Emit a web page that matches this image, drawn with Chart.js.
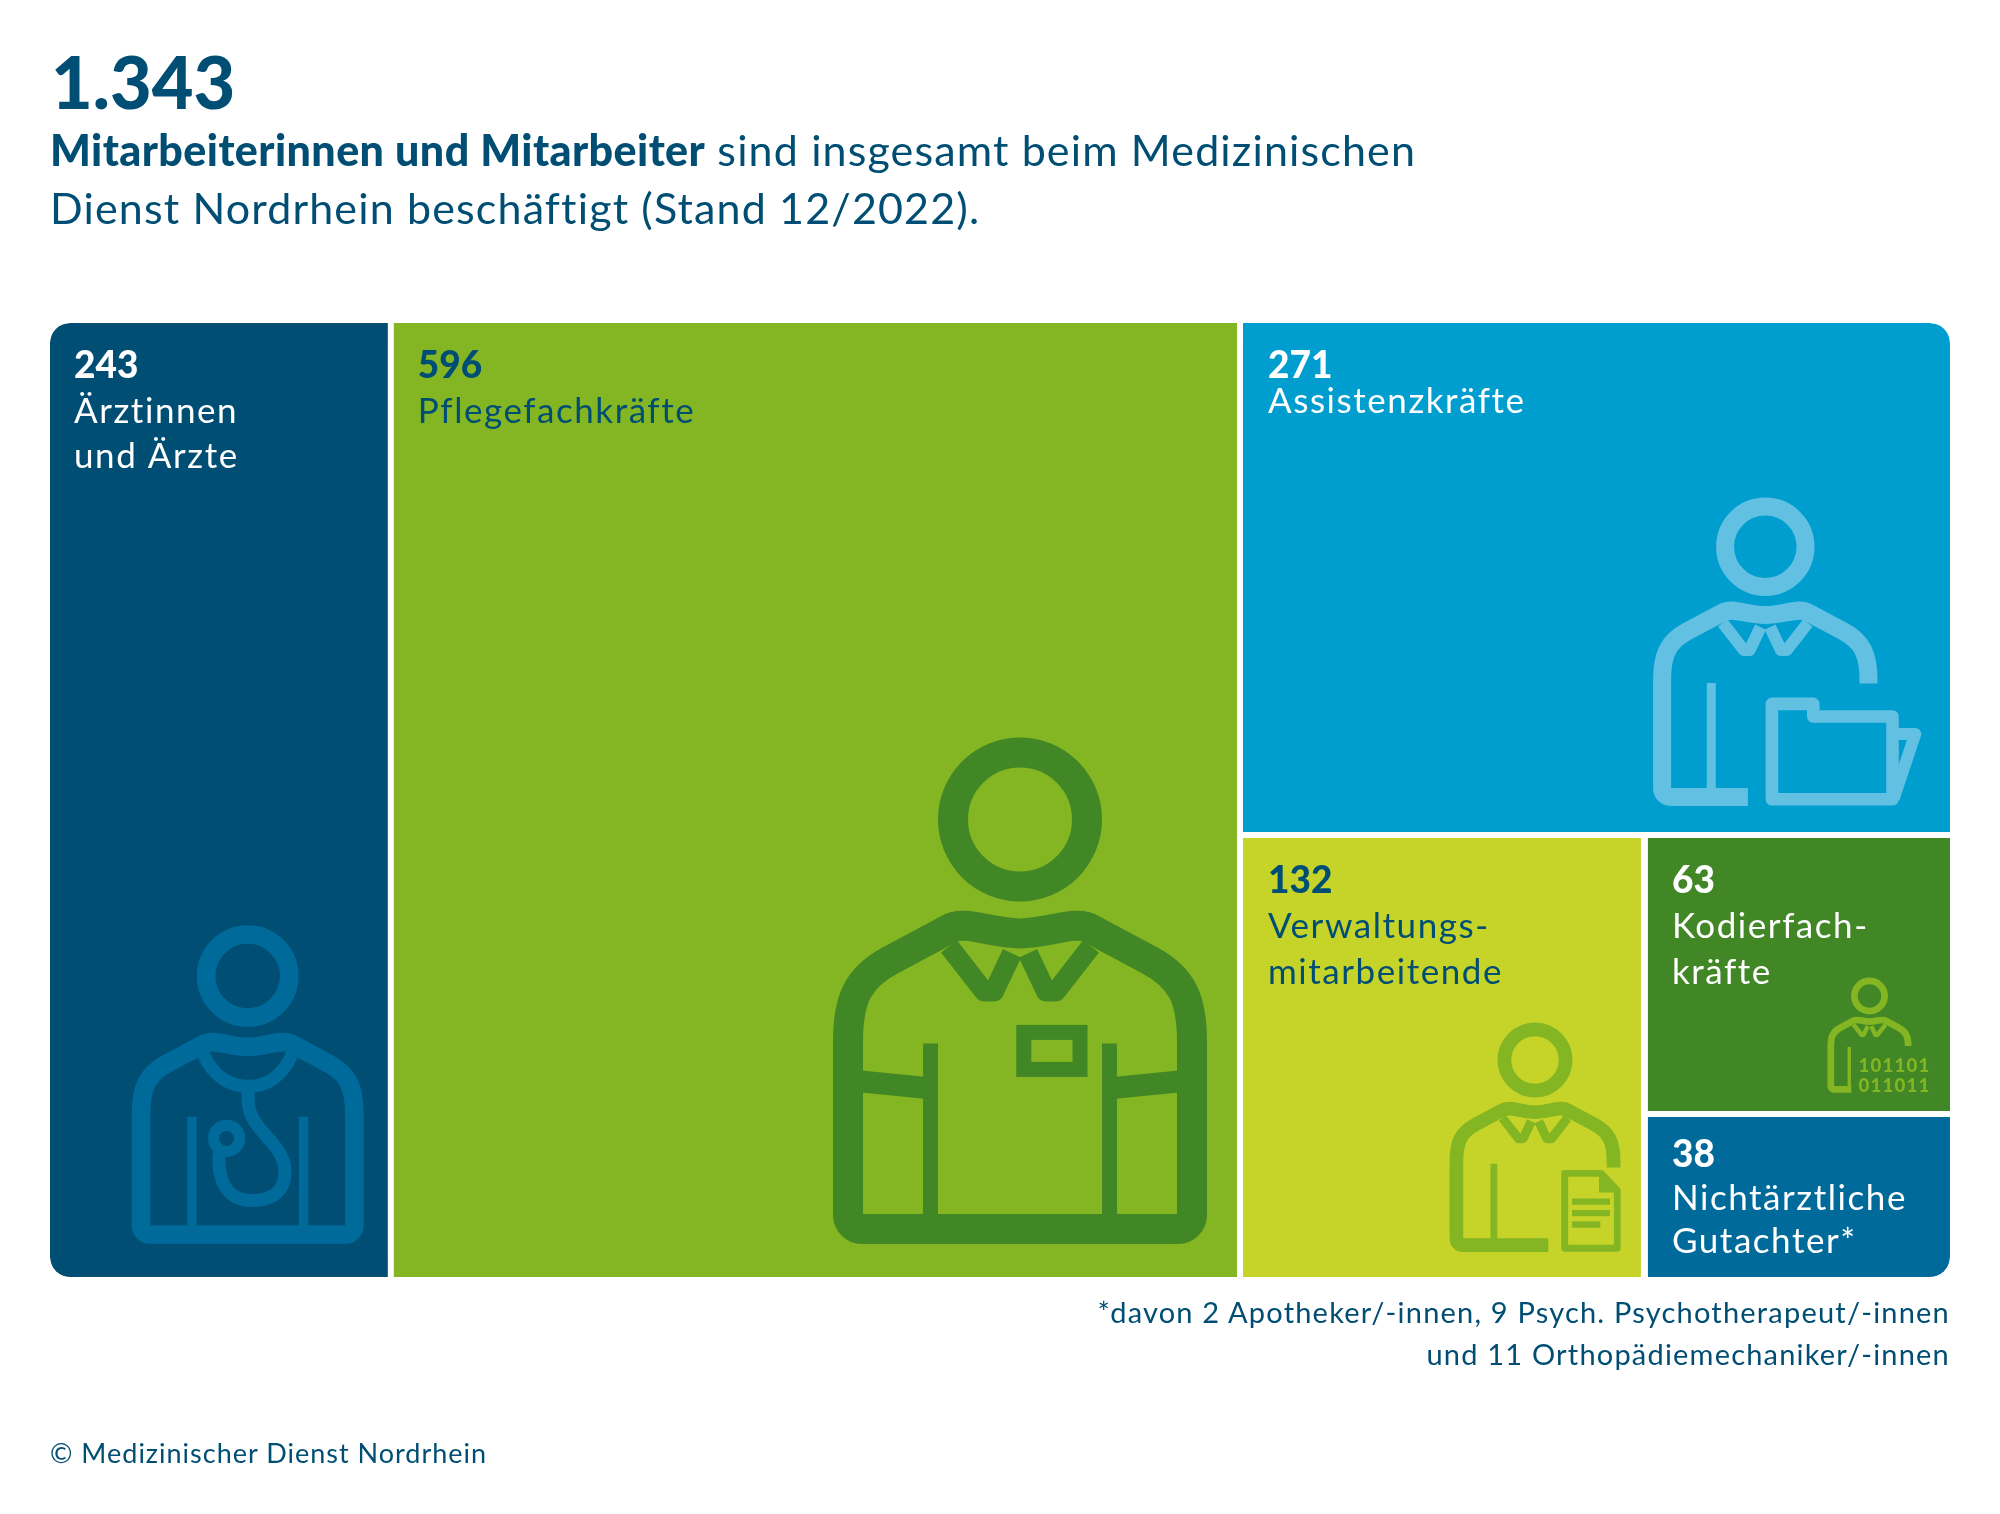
<!DOCTYPE html>
<html lang="de">
<head>
<meta charset="utf-8">
<title>Mitarbeitende Medizinischer Dienst Nordrhein</title>
<script src="https://cdn.jsdelivr.net/npm/chart.js@4"></script>
<style>
  html, body { margin: 0; padding: 0; background: #fff; }
  #page { position: relative; width: 2000px; height: 1514px; overflow: hidden; font-family: Lato, "Noto Sans", sans-serif; color: #004e73; }
  #chart { position: absolute; left: 0; top: 0; }
  .txt { position: absolute; white-space: nowrap; line-height: 1.2; }
  #gesamt { left: 51px; top: 38px; font-size: 72px; font-weight: 900; }
  .sub { left: 50px; font-size: 43px; letter-spacing: 1.15px; }
  .sub b { font-weight: 900; letter-spacing: 0.42px; }
  .fuss { right: 50px; font-size: 29px; letter-spacing: 1.2px; }
  #copy { left: 50px; top: 1437px; font-size: 27px; letter-spacing: 1px; }
</style>
</head>
<body>
<div id="page">
  <canvas id="chart" width="2000" height="1514"></canvas>
  <div class="txt" id="gesamt">1.343</div>
  <div class="txt sub" style="top:124px"><b>Mitarbeiterinnen und Mitarbeiter</b> sind insgesamt beim Medizinischen</div>
  <div class="txt sub" style="top:182px">Dienst Nordrhein beschäftigt (Stand 12/2022).</div>
  <div class="txt fuss" style="top:1295px">*davon 2 Apotheker/-innen, 9 Psych. Psychotherapeut/-innen</div>
  <div class="txt fuss" style="top:1337px">und 11 Orthopädiemechaniker/-innen</div>
  <div class="txt" id="copy">© Medizinischer Dienst Nordrhein</div>
</div>
<script>
// ── DATOS ─────────────────────────────────────────────────────────────────────
var tileValues = [243, 596, 271, 132, 63, 38];
var tileNames  = [
  ['Ärztinnen', 'und Ärzte'],
  ['Pflegefachkräfte'],
  ['Assistenzkräfte'],
  ['Verwaltungs-', 'mitarbeitende'],
  ['Kodierfach-', 'kräfte'],
  ['Nichtärztliche', 'Gutachter*']
];
var tileColors = ['#004e73', '#84b522', '#009ecf', '#c6d42a', '#418725', '#006a9b'];
var textColors = ['#ffffff', '#004e73', '#ffffff', '#004e73', '#ffffff', '#ffffff'];
var iconColors = ['#006a9b', '#418725', '#62c0e3', '#84b522', '#84b522'];

// white gaps between tiles (px) and outer corners
var tileGaps = [
  { top: 0, right: 6, bottom: 0, left: 0 },
  { top: 0, right: 0, bottom: 0, left: 0 },
  { top: 0, right: 0, bottom: 4, left: 6 },
  { top: 2, right: 0, bottom: 0, left: 6 },
  { top: 2, right: 0, bottom: 0, left: 7 },
  { top: 6, right: 0, bottom: 0, left: 7 }
];
var R = 20;
var tileCorners = [
  { topLeft: R, topRight: 0, bottomLeft: R, bottomRight: 0 },
  0,
  { topLeft: 0, topRight: R, bottomLeft: 0, bottomRight: 0 },
  0,
  0,
  { topLeft: 0, topRight: 0, bottomLeft: 0, bottomRight: R }
];
// text inset and baselines of number and name lines, from the top left of the tile
var tileInsets = [24, 24, 25, 25, 24, 24];
var tileBaselines = [
  [55, 100, 145], [55, 100], [55, 90], [57, 102, 148], [57, 102, 148], [56, 99, 142]
];

// ── TREEMAP LAYOUT ────────────────────────────────────────────────────────────
// columns 243 | 596 | rest; rest = 271 over (132 | (63 over 38))
function layoutTiles(v) {
  var total = v.reduce(function(a, b) { return a + b; }, 0);
  var c1 = v[0], c2 = c1 + v[1];
  var rest = v[2] + v[3] + v[4] + v[5];
  var yTop = v[2] / rest;
  var xMid = c2 + (total - c2) * v[3] / (v[3] + v[4] + v[5]);
  var yMid = yTop + (1 - yTop) * v[4] / (v[4] + v[5]);
  function tile(x0, x1, y0, y1) { return { x: (x0 + x1) / 2, y: [y0, y1], x0: x0, x1: x1 }; }
  return [
    tile(0, c1, 0, 1),
    tile(c1, c2, 0, 1),
    tile(c2, total, 0, yTop),
    tile(c2, xMid, yTop, 1),
    tile(xMid, total, yTop, yMid),
    tile(xMid, total, yMid, 1)
  ];
}

// bar controller whose bar width comes from the x scale
class TileController extends Chart.BarController {
  _calculateBarIndexPixels(index) {
    var raw = this.getDataset().data[index];
    var scale = this._cachedMeta.iScale;
    var l = scale.getPixelForValue(raw.x0), r = scale.getPixelForValue(raw.x1);
    return { base: l, head: r, center: (l + r) / 2, size: r - l, ratio: 1 };
  }
}
TileController.id = 'tile';
Chart.register(TileController);

// ── ICONOS ────────────────────────────────────────────────────────────────────
function mirror(ctx, fn) {
  ctx.save(); fn(); ctx.scale(-1, 1); fn(); ctx.restore();
}
function vLine(ctx, x, y0, y1, w) {
  ctx.lineWidth = w;
  ctx.beginPath(); ctx.moveTo(x, y0); ctx.lineTo(x, y1); ctx.stroke();
}
// person: head at the origin, units are px of the big nurse icon
function person(ctx, o) {
  var b = o.bottom;
  ctx.lineWidth = 30;
  ctx.beginPath(); ctx.arc(0, 0, 67, 0, Math.PI * 2); ctx.stroke();

  ctx.lineCap = 'butt'; ctx.lineJoin = 'round';
  ctx.beginPath();
  if (o.bandEnd === undefined) {
    ctx.moveTo(172, 300); ctx.lineTo(172, b - 14);
    ctx.arcTo(172, b, 158, b, 14);
  } else {
    ctx.moveTo(o.bandEnd, b);
  }
  ctx.lineTo(-158, b);
  ctx.arcTo(-172, b, -172, b - 14, 14);
  ctx.lineTo(-172, 222);
  ctx.bezierCurveTo(-172, 180, -162, 158, -130, 141);
  ctx.lineTo(-72, 110);
  ctx.bezierCurveTo(-56, 100, -30, 114, 0, 114);
  ctx.bezierCurveTo(30, 114, 56, 100, 72, 110);
  ctx.lineTo(130, 141);
  ctx.bezierCurveTo(162, 158, 172, 180, 172, 222);
  ctx.lineTo(172, o.bandEnd === undefined ? 300 : o.sideEnd);
  ctx.stroke();

  if (!o.noCollar) {
    mirror(ctx, function() {
      ctx.lineWidth = 20;
      ctx.beginPath();
      ctx.moveTo(-71, 127); ctx.lineTo(-36, 172); ctx.lineTo(-26, 172); ctx.lineTo(-8, 134);
      ctx.stroke();
    });
  }
}

var iconDraw = [
  function doctor(ctx) {
    person(ctx, { bottom: 417, noCollar: true });
    vLine(ctx, -90, 227, 417, 15);
    vLine(ctx, 90, 227, 417, 15);
    ctx.lineWidth = 21;
    ctx.beginPath();
    ctx.moveTo(-72, 125);
    ctx.bezierCurveTo(-55, 165, -25, 178, 1, 178);
    ctx.bezierCurveTo(27, 178, 55, 165, 72, 125);
    ctx.stroke();
    ctx.beginPath();
    ctx.moveTo(1, 178); ctx.lineTo(1, 205);
    ctx.bezierCurveTo(4, 250, 60, 270, 60, 315);
    ctx.bezierCurveTo(60, 355, 30, 362, 5, 362);
    ctx.bezierCurveTo(-25, 362, -50, 340, -46, 285);
    ctx.stroke();
    ctx.lineWidth = 18;
    ctx.beginPath(); ctx.arc(-34, 262, 21, 0, Math.PI * 2); ctx.stroke();
  },
  function nurse(ctx) {
    person(ctx, { bottom: 409.6 });
    vLine(ctx, -89.5, 224, 409, 15);
    vLine(ctx, 89.5, 224, 409, 15);
    mirror(ctx, function() {
      ctx.lineWidth = 22;
      ctx.beginPath(); ctx.moveTo(-160, 262); ctx.lineTo(-89, 269); ctx.stroke();
    });
    ctx.lineWidth = 15; ctx.lineJoin = 'miter';
    ctx.strokeRect(3.8, 213, 56.2, 37);
  },
  function assistant(ctx) {
    person(ctx, { bottom: 417, bandEnd: -29, sideEnd: 228 });
    vLine(ctx, -90, 227, 417, 15);
    ctx.lineWidth = 21;
    ctx.beginPath();
    ctx.moveTo(11, 410); ctx.lineTo(11, 262); ctx.lineTo(80, 262); ctx.lineTo(80, 283);
    ctx.lineTo(212, 283); ctx.lineTo(212, 421); ctx.lineTo(11, 421); ctx.closePath();
    ctx.stroke();
    ctx.lineWidth = 20;
    ctx.beginPath();
    ctx.moveTo(212, 312); ctx.lineTo(250, 312); ctx.lineTo(214, 420);
    ctx.stroke();
  },
  function admin(ctx) {
    person(ctx, { bottom: 405, bandEnd: 29, sideEnd: 235 });
    vLine(ctx, -90, 227, 405, 15);
    ctx.lineWidth = 15;
    ctx.beginPath();
    ctx.moveTo(65, 248); ctx.lineTo(145, 248); ctx.lineTo(180, 285); ctx.lineTo(180, 412);
    ctx.lineTo(65, 412); ctx.closePath(); ctx.stroke();
    ctx.fillStyle = ctx.strokeStyle;
    ctx.beginPath(); ctx.moveTo(140, 248); ctx.lineTo(180, 290); ctx.lineTo(140, 290); ctx.closePath(); ctx.fill();
    ctx.lineWidth = 14;
    [[310, 164], [335, 164], [360, 143]].forEach(function(l) {
      ctx.beginPath(); ctx.moveTo(81, l[0]); ctx.lineTo(l[1], l[0]); ctx.stroke();
    });
  },
  function coder(ctx) {
    person(ctx, { bottom: 415, bandEnd: -81, sideEnd: 222 });
    vLine(ctx, -90, 226, 415, 15);
  }
];
// head centre and scale of every icon, one per tile (the last tile has none)
var iconPlaces = [
  { x: 247.7, y: 976, s: 0.62 },
  { x: 1020, y: 819.4, s: 1 },
  { x: 1765.3, y: 546.7, s: 0.6 },
  { x: 1535, y: 1060, s: 0.457 },
  { x: 1869.5, y: 996, s: 0.225 }
];
var binaryLines = ['101101', '011011'];

var tilePlugin = {
  id: 'tileDecor',
  afterDatasetsDraw: function(chart) {
    var ctx = chart.ctx;
    iconPlaces.forEach(function(p, i) {
      ctx.save();
      ctx.translate(p.x, p.y);
      ctx.scale(p.s, p.s);
      ctx.strokeStyle = iconColors[i];
      iconDraw[i](ctx);
      ctx.restore();
    });

    ctx.save();
    ctx.textBaseline = 'alphabetic';
    ctx.textAlign = 'left';
    ctx.fillStyle = iconColors[4];
    ctx.font = '900 18.6px Lato';
    ctx.letterSpacing = '1.2px';
    ctx.fillText(binaryLines[0], 1858.5, 1071.7);
    ctx.fillText(binaryLines[1], 1858.5, 1091.6);

    chart.getDatasetMeta(0).data.forEach(function(bar, i) {
      var left = bar.x - bar.width / 2 + tileGaps[i].left + tileInsets[i];
      var top = Math.min(bar.y, bar.base);
      var lines = tileBaselines[i];
      ctx.fillStyle = textColors[i];
      ctx.font = '900 37px Lato';
      ctx.letterSpacing = '0px';
      ctx.fillText(String(tileValues[i]), left, top + lines[0]);
      ctx.font = '400 35px Lato';
      ctx.letterSpacing = '1.55px';
      tileNames[i].forEach(function(name, j) {
        ctx.fillText(name, left, top + lines[j + 1]);
      });
    });
    ctx.restore();
  }
};

// ── CHART ─────────────────────────────────────────────────────────────────────
var total = tileValues.reduce(function(a, b) { return a + b; }, 0);

new Chart(document.getElementById('chart').getContext('2d'), {
  type: 'tile',
  data: {
    labels: tileNames.map(function(n) { return n.join(' '); }),
    datasets: [{
      data: layoutTiles(tileValues),
      backgroundColor: tileColors,
      borderColor: '#ffffff',
      borderSkipped: false,
      inflateAmount: 0,
      borderWidth: function(c) { return tileGaps[c.dataIndex]; },
      borderRadius: function(c) { return tileCorners[c.dataIndex]; }
    }]
  },
  options: {
    responsive: false,
    animation: false,
    events: [],
    layout: { padding: { left: 50, right: 50, top: 323, bottom: 237 } },
    plugins: { legend: { display: false }, tooltip: { enabled: false } },
    scales: {
      x: { type: 'linear', display: false, min: 0, max: total, offset: false },
      y: { type: 'linear', display: false, min: 0, max: 1, reverse: true }
    }
  },
  plugins: [tilePlugin]
});
</script>
</body>
</html>
